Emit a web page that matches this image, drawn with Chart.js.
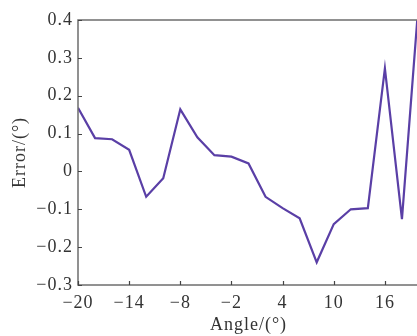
<!DOCTYPE html>
<html>
<head>
<meta charset="utf-8">
<script src="https://cdn.jsdelivr.net/npm/chart.js@4/dist/chart.umd.min.js"></script>
<style>
  html, body { margin: 0; padding: 0; background: #fff; overflow: hidden; }
  #wrap { width: 420px; height: 336px; }
</style>
</head>
<body>
<div id="wrap"><canvas id="mycanvas"></canvas></div>
<script>
// data
var angles = [-20, -18, -16, -14, -12, -10, -8, -6, -4, -2, 0, 2, 4, 6, 8, 10, 12, 14, 16, 18, 20];
var errors = [0.168, 0.088, 0.085, 0.057, -0.067, -0.018, 0.164, 0.090, 0.043, 0.039, 0.021, -0.067, -0.097, -0.124, -0.240, -0.139, -0.100, -0.097, 0.272, -0.126, 0.46];
var xTicks = [-20, -14, -8, -2, 4, 10, 16];
var yTicks = [-0.3, -0.2, -0.1, 0, 0.1, 0.2, 0.3, 0.4];

var points = [];
for (var i in angles) {
	points.push({x: angles[i], y: errors[i]});
}

function minus(v, digits) {
	var s = Math.abs(v) < 1e-9 ? '0' : Math.abs(v).toFixed(digits);
	return v < -1e-9 ? '\u2212' + s : s;
}

var textColor = '#333';
var serif = "'Liberation Serif', 'DejaVu Serif', serif";

// frame round the plot, short ticks pointing inwards, wider text spacing
var framePlugin = {
	id: 'frame',
	beforeDraw: function(chart) {
		chart.ctx.letterSpacing = '1px';
	},
	afterDraw: function(chart) {
		var c = chart.ctx, a = chart.chartArea;
		var xs = chart.scales.x, ys = chart.scales.y;
		c.letterSpacing = '0px';
		c.save();
		c.strokeStyle = '#6e6e6e';
		c.lineWidth = 1.5;
		c.strokeRect(a.left, a.top, a.right - a.left, a.bottom - a.top);
		c.strokeStyle = '#444';
		c.lineWidth = 1.2;
		c.beginPath();
		xs.ticks.forEach(function(t) {
			var px = Math.round(xs.getPixelForValue(t.value)) + 0.5;
			c.moveTo(px, a.bottom);
			c.lineTo(px, a.bottom - 4);
		});
		ys.ticks.forEach(function(t) {
			var py = Math.round(ys.getPixelForValue(t.value)) + 0.5;
			c.moveTo(a.left, py);
			c.lineTo(a.left + 4, py);
		});
		c.stroke();
		c.restore();
	}
};

var ctx = document.getElementById('mycanvas');
var chart = new Chart(ctx, {
	type: 'line',
	data: {
		datasets: [{
			data: points,
			borderColor: '#5a3fa6',
			borderWidth: 2.2,
			pointRadius: 0,
			tension: 0,
			fill: false
		}]
	},
	options: {
		responsive: true,
		maintainAspectRatio: false,
		animation: false,
		layout: { padding: { top: 20, right: 1, left: 0, bottom: 0 } },
		plugins: { legend: { display: false }, tooltip: { enabled: false } },
		scales: {
			x: {
				type: 'linear',
				min: -20,
				max: 20,
				afterBuildTicks: function(scale) {
					scale.ticks = xTicks.map(function(v) { return {value: v}; });
				},
				afterFit: function(scale) { scale.height = 51; },
				grid: { display: false, drawTicks: false },
				border: { display: false },
				ticks: {
					autoSkip: false,
					maxRotation: 0,
					padding: 7,
					color: textColor,
					font: { family: serif, size: 18 },
					callback: function(v) { return minus(v, 0); }
				},
				title: {
					display: true,
					text: 'Angle/(°)',
					color: textColor,
					font: { family: serif, size: 18 },
					padding: { top: 0, bottom: 0 }
				}
			},
			y: {
				min: -0.3,
				max: 0.4,
				afterBuildTicks: function(scale) {
					scale.ticks = yTicks.map(function(v) { return {value: v}; });
				},
				afterFit: function(scale) { scale.width = 78; },
				grid: { display: false, drawTicks: false },
				border: { display: false },
				ticks: {
					padding: 5,
					color: textColor,
					font: { family: serif, size: 18 },
					callback: function(v) { return minus(v, 1); }
				},
				title: {
					display: true,
					text: 'Error/(°)',
					color: textColor,
					font: { family: serif, size: 18 },
					padding: { top: 9, bottom: 0 }
				}
			}
		}
	},
	plugins: [framePlugin]
});
</script>
</body>
</html>
